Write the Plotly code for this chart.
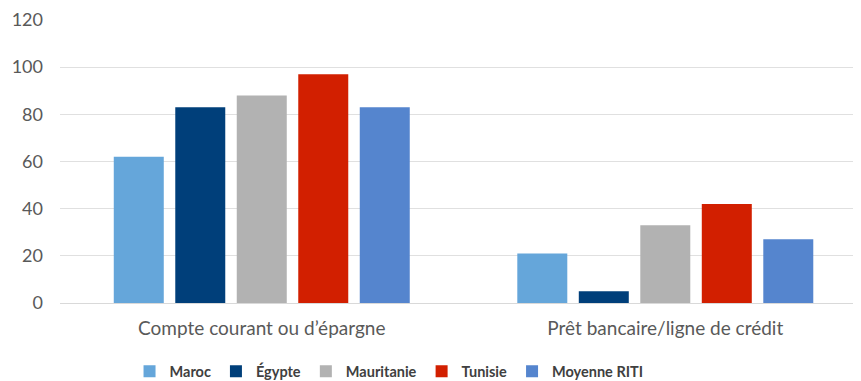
import plotly.graph_objects as go

categories = ["Compte courant ou d’épargne", "Prêt bancaire/ligne de crédit"]
series_names = ["Maroc", "Égypte", "Mauritanie", "Tunisie", "Moyenne RITI"]
maroc = [62, 21]
egypte = [83, 5]
mauritanie = [88, 33]
tunisie = [97, 42]
moyenne = [83, 27]
colors = ["#65A6DA", "#003F7A", "#B2B2B2", "#D21F00", "#5585CE"]
y_ticks = [0, 20, 40, 60, 80, 100, 120]

fig = go.Figure()
for name, vals, col in zip(series_names, [maroc, egypte, mauritanie, tunisie, moyenne], colors):
    fig.add_trace(go.Bar(x=categories, y=vals, name=name, marker=dict(color=col, line=dict(width=0))))

fig.update_layout(
    width=853, height=373,
    margin=dict(l=52, r=0, t=12, b=78),
    paper_bgcolor="white", plot_bgcolor="white",
    barmode="group", bargap=0.238, bargroupgap=0.187,
    font=dict(family="Lato, Open Sans, sans-serif", color="#595959", size=14),
    showlegend=True,
    legend=dict(orientation="h", xref="container", x=0.4467, xanchor="center",
                yref="container", y=0.026, yanchor="middle",
                font=dict(size=14.5, color="#404040", family="Lato, sans-serif", weight="bold"),
                itemwidth=30, tracegroupgap=0),
    xaxis=dict(type="category", range=[-0.5, 1.485], showgrid=False, showline=True,
               linecolor="#D9D9D9", linewidth=1, ticks="", tickfont=dict(size=19, color="#595959"),
               ticklabelstandoff=8, automargin=False),
    yaxis=dict(range=[0, 120], tickvals=y_ticks, showgrid=True, gridcolor="#E0E0E0", gridwidth=1,
               zeroline=False, showline=False, ticks="", tickfont=dict(size=18, color="#595959"),
               ticklabelstandoff=16, automargin=False),
)

fig.write_html("out.html")
